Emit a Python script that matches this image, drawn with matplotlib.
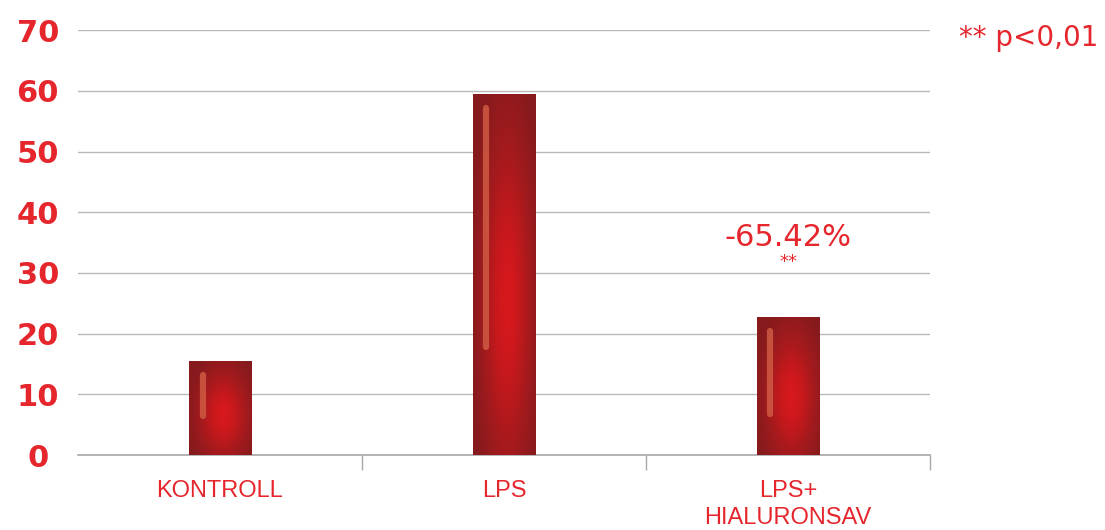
import numpy as np
import matplotlib
matplotlib.use("Agg")
import matplotlib.pyplot as plt
from matplotlib.colors import LinearSegmentedColormap

# Data
categories = ["KONTROLL", "LPS", "LPS+\nHIALURONSAV"]
values = [15.5, 59.5, 22.7]
yticks = [0, 10, 20, 30, 40, 50, 60, 70]
change_label = "-65.42%"
signif_label = "**"
legend_note = "** p<0,01"

RED = "#e5262d"
GRID = "#b9b9b9"

fig = plt.figure(figsize=(11.05, 5.3), dpi=100)
ax = fig.add_axes([0.0706, 0.1415, 0.7710, 0.8015])

x = np.arange(len(categories))
width = 0.22
bars = ax.bar(x, values, width=width, color="#9b1b1d", zorder=2)

# gradient fill inside each bar: dark edges, brighter red centre
cmap = LinearSegmentedColormap.from_list("barred", ["#861a1d", "#a81a1d", "#d6181c"])
gx = np.linspace(-1, 1, 60)
gy = np.linspace(-1, 1, 120)
GX, GY = np.meshgrid(gx, gy)
for bar, v in zip(bars, values):
    x0 = bar.get_x()
    w = bar.get_width()
    glow = np.exp(-((GX - 0.1) / 0.95) ** 2 - ((GY + 0.15) / 1.1) ** 2)
    im = ax.imshow(glow, extent=[x0, x0 + w, 0, v], origin="lower",
                   cmap=cmap, vmin=0.2, vmax=1.0, aspect="auto", zorder=3,
                   interpolation="bilinear")
    im.set_clip_path(bar)
    # light highlight stripe
    top = v - 2.3
    bottom = max(6.5, 0.3 * v)
    ax.plot([x0 + 0.22 * w, x0 + 0.22 * w], [bottom, top], color="#cf5a42",
            lw=4.5, solid_capstyle="round", alpha=0.85, zorder=4)

ax.set_xlim(-0.5, len(categories) - 0.5)
ax.set_ylim(0, 70)

# grid
ax.set_yticks(yticks)
ax.yaxis.grid(True, color=GRID, lw=1.0, zorder=0)
ax.set_axisbelow(True)
for s in ["left", "right", "top"]:
    ax.spines[s].set_visible(False)
ax.spines["bottom"].set_color("#a8a8a8")
ax.spines["bottom"].set_linewidth(1.2)

ax.tick_params(axis="y", length=0, pad=29, labelsize=22, labelcolor=RED)
for lab in ax.get_yticklabels():
    lab.set_horizontalalignment("center")
    lab.set_fontweight("semibold")

# category ticks between groups
ax.set_xticks([0.5, 1.5, 2.5], minor=False)
ax.set_xticklabels([])
ax.tick_params(axis="x", which="major", length=11, width=1.0, color="#a8a8a8",
               direction="out")
for i, c in enumerate(categories):
    ax.text(i, -4.2, c, ha="center", va="top", color=RED, fontsize=17,
            family="Liberation Sans", linespacing=1.25)

# annotations
ax.text(2, 35.8, change_label, ha="center", va="center", color=RED, fontsize=22)
ax.text(2, 31.8, signif_label, ha="center", va="center", color=RED, fontsize=13)
fig.text(0.868, 0.928, legend_note, ha="left", va="center", color=RED, fontsize=20)

fig.savefig("out.png", dpi=100)
